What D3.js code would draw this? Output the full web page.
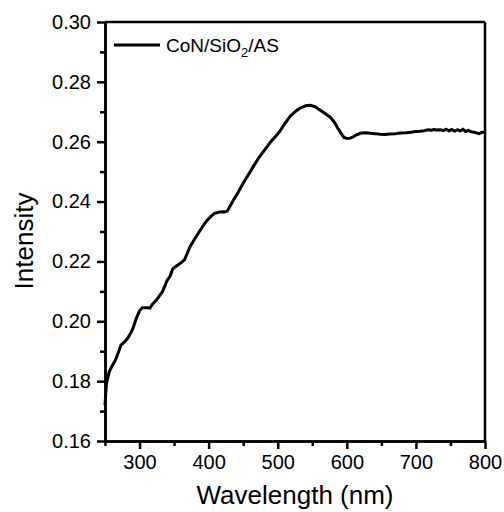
<!DOCTYPE html>
<html>
<head>
<meta charset="utf-8">
<script src="https://cdn.jsdelivr.net/npm/d3@7.9.0/dist/d3.min.js"></script>
<style>
  body { margin: 0; background: #fff; }
  svg text { font-family: "Liberation Sans", Arial, sans-serif; fill: #000; }
</style>
</head>
<body>
<div id="chart"></div>
<script>
// wavelength (nm)
const wavelength = [250, 252, 256, 260, 265, 270, 273, 278, 283, 287, 291, 296, 300, 304, 310, 315, 319, 324, 328, 333,
  337, 340, 344, 348, 352, 358, 365, 373, 380, 385, 391, 398, 404, 409, 414, 419, 423, 427, 431, 436,
  443, 450, 457, 464, 472, 482, 490, 497, 503, 510, 518, 525, 532, 540, 547, 554, 561, 568, 576, 582,
  587, 592, 596, 600, 605, 609, 615, 621, 628, 634, 641, 648, 655, 662, 670, 678, 686, 693, 700, 706,
  712, 718, 722, 726, 730, 735, 740, 744, 748, 752, 756, 760, 764, 768, 772, 776, 780, 784, 788, 792, 796, 800];
// intensity values
const intensity = [0.172, 0.179, 0.183, 0.185, 0.187, 0.190, 0.192, 0.193, 0.1944, 0.196, 0.198, 0.2014, 0.2035, 0.2045, 0.2045, 0.2044, 0.2058, 0.2070, 0.2082, 0.2098,
  0.2120, 0.2137, 0.2150, 0.2175, 0.2182, 0.2192, 0.2205, 0.2249, 0.2276, 0.2294, 0.2316, 0.2338, 0.2352, 0.2361, 0.2364, 0.2366, 0.2365, 0.2368, 0.2385, 0.2405,
  0.2432, 0.2461, 0.2488, 0.2515, 0.2544, 0.2575, 0.2600, 0.2618, 0.2635, 0.2660, 0.2685, 0.2700, 0.2712, 0.2720, 0.2722, 0.2717, 0.2706, 0.2695, 0.2682, 0.2665,
  0.2645, 0.2627, 0.2614, 0.2611, 0.2612, 0.2616, 0.2624, 0.2629, 0.2630, 0.2628, 0.2627, 0.2625, 0.2624, 0.2626, 0.2627, 0.2629, 0.2630, 0.2632, 0.2634, 0.2635,
  0.2637, 0.2640, 0.2638, 0.2641, 0.2639, 0.2640, 0.2637, 0.2642, 0.2636, 0.2641, 0.2635, 0.2640, 0.2636, 0.2642, 0.2634, 0.2638, 0.2633, 0.2632, 0.2629, 0.2627, 0.2632, 0.2630];

const xTicks = [300, 400, 500, 600, 700, 800];
const xMinor = [250, 350, 450, 550, 650, 750];
const yTicks = [0.16, 0.18, 0.20, 0.22, 0.24, 0.26, 0.28, 0.30];
const yMinor = [0.17, 0.19, 0.21, 0.23, 0.25, 0.27, 0.29];

const seriesName = 'CoN/SiO';

const width = 504, height = 512;
const margin = { top: 22, right: 19, bottom: 71, left: 105 };
const innerW = width - margin.left - margin.right;
const innerH = height - margin.top - margin.bottom;

const svg = d3.select('#chart').append('svg')
  .attr('width', width)
  .attr('height', height);

const g = svg.append('g')
  .attr('transform', `translate(${margin.left},${margin.top})`);

const x = d3.scaleLinear().domain([250, 800]).range([0, innerW]);
const y = d3.scaleLinear().domain([0.16, 0.30]).range([innerH, 0]);

const rows = wavelength.map((w, i) => ({ w, v: intensity[i] }));

// curve
g.append('path')
  .datum(rows)
  .attr('fill', 'none')
  .attr('stroke', '#000')
  .attr('stroke-width', 3)
  .attr('stroke-linejoin', 'round')
  .attr('d', d3.line().x(d => x(d.w)).y(d => y(d.v)));

// frame top/right
g.append('line').attr('x1', 0).attr('x2', innerW).attr('y1', 0).attr('y2', 0)
  .attr('stroke', '#000').attr('stroke-width', 2.5);
g.append('line').attr('x1', innerW).attr('x2', innerW).attr('y1', 0).attr('y2', innerH)
  .attr('stroke', '#000').attr('stroke-width', 2.5);

// minor ticks
g.append('g')
  .attr('transform', `translate(0,${innerH})`)
  .call(d3.axisBottom(x).tickValues(xMinor).tickSize(5).tickSizeOuter(0).tickFormat(''));
g.append('g')
  .call(d3.axisLeft(y).tickValues(yMinor).tickSize(5).tickSizeOuter(0).tickFormat(''));

// major axes
g.append('g')
  .attr('transform', `translate(0,${innerH})`)
  .call(d3.axisBottom(x).tickValues(xTicks).tickSize(8).tickSizeOuter(0).tickPadding(6));
g.append('g')
  .call(d3.axisLeft(y).tickValues(yTicks).tickSize(8).tickSizeOuter(0).tickPadding(6)
    .tickFormat(d3.format('.2f')));

g.selectAll('.domain, .tick line').attr('stroke', '#000').attr('stroke-width', 2.5);
g.selectAll('.tick text')
  .style('font-family', '"Liberation Sans", Arial, sans-serif')
  .style('font-size', '20px')
  .attr('fill', '#000');

// axis titles
svg.append('text')
  .attr('x', margin.left + innerW / 2)
  .attr('y', 504)
  .attr('text-anchor', 'middle')
  .style('font-size', '26px')
  .text('Wavelength (nm)');

svg.append('text')
  .attr('transform', 'translate(33,241) rotate(-90)')
  .attr('text-anchor', 'middle')
  .style('font-size', '26px')
  .text('Intensity');

// legend
svg.append('line')
  .attr('x1', 114).attr('x2', 160).attr('y1', 45).attr('y2', 45)
  .attr('stroke', '#000').attr('stroke-width', 3);
const leg = svg.append('text')
  .attr('x', 166).attr('y', 52)
  .style('font-size', '19px');
leg.append('tspan').text(seriesName);
leg.append('tspan').attr('dy', 5).style('font-size', '13px').text('2');
leg.append('tspan').attr('dy', -5).text('/AS');
</script>
</body>
</html>
